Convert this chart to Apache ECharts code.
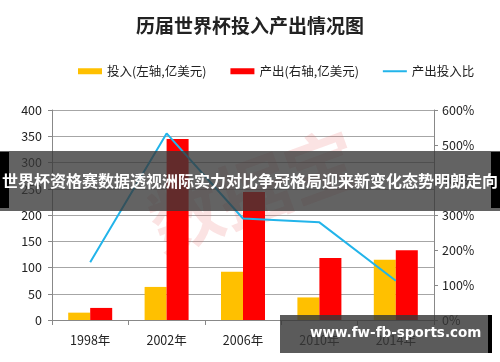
<!DOCTYPE html>
<html><head><meta charset="utf-8">
<script src="https://cdn.jsdelivr.net/npm/echarts@6/dist/echarts.min.js"></script>
<style>html,body{margin:0;padding:0;background:#fff}#c{width:500px;height:362px}</style>
</head><body><div id="c"></div>
<script>
var categories = ['1998年', '2002年', '2006年', '2010年', '2014年'];
var investment = [14, 63, 92, 43, 115];
var output = [23, 345, 244, 118, 133];
var ratio = [165, 533, 290, 279, 112];
var leftTicks = [0, 50, 100, 150, 200, 250, 300, 350, 400];
var rightTicks = [0, 100, 200, 300, 400, 500, 600];
var titleText = '历届世界杯投入产出情况图';
var bannerText = '世界杯资格赛数据透视洲际实力对比争冠格局迎来新变化态势明朗走向';
var siteText = 'www.fw-fb-sports.com';
var stampText = '数据宝';

var chart = echarts.init(document.getElementById('c'), null, {renderer: 'canvas'});
var font = '"Noto Sans CJK SC", "Noto Sans", sans-serif';
chart.setOption({
  animation: false,
  title: {text: titleText, left: 'center', top: 11,
    textStyle: {fontFamily: font, fontSize: 19, fontWeight: 'bold', color: '#222'}},
  legend: {top: 60, left: 73, itemGap: 24, itemWidth: 24, itemHeight: 6,
    textStyle: {fontFamily: font, fontSize: 12.5, color: '#222'},
    data: [{name: '投入(左轴,亿美元)', icon: 'rect'}, {name: '产出(右轴,亿美元)', icon: 'rect'}, {name: '产出投入比', icon: 'path://M0,0 L24,0 L24,2 L0,2 Z'}]},
  grid: {left: 52, right: 66, top: 110, height: 210},
  xAxis: {type: 'category', data: categories,
    axisLine: {lineStyle: {color: '#888'}},
    axisTick: {show: true, length: 5, lineStyle: {color: '#888'}},
    axisLabel: {fontFamily: font, fontSize: 12.5, color: '#222', margin: 14}},
  yAxis: [
    {type: 'value', min: leftTicks[0], max: leftTicks[leftTicks.length - 1], interval: 50,
     axisLine: {show: true, lineStyle: {color: '#888'}},
     axisTick: {show: true, length: 4, lineStyle: {color: '#888'}},
     splitLine: {lineStyle: {color: '#a6a6a6'}},
     axisLabel: {fontFamily: font, fontSize: 12.5, color: '#222', margin: 10}},
    {type: 'value', min: rightTicks[0], max: rightTicks[rightTicks.length - 1], interval: 100,
     axisLine: {show: true, lineStyle: {color: '#888'}},
     axisTick: {show: true, length: 4, lineStyle: {color: '#888'}},
     splitLine: {show: false},
     axisLabel: {fontFamily: font, fontSize: 12.5, color: '#222', margin: 8, formatter: '{value}%'}}
  ],
  series: [
    {name: '投入(左轴,亿美元)', type: 'bar', data: investment, barWidth: 22, barGap: '0%',
     itemStyle: {color: '#FFC000'}},
    {name: '产出(右轴,亿美元)', type: 'bar', data: output, barWidth: 22, barGap: '0%',
     itemStyle: {color: '#FF0000'}},
    {name: '产出投入比', type: 'line', yAxisIndex: 1, data: ratio, symbol: 'none',
     lineStyle: {color: '#22B4EA', width: 2}, itemStyle: {color: '#22B4EA'}, z: 5}
  ],
  graphic: [
    {type: 'text', left: 140, top: 120, rotation: 0.35, z: 1, silent: true,
     style: {text: stampText, fontSize: 72, fontWeight: 'bold', fontFamily: font, fill: 'rgba(235,100,100,0.18)'}},
    {type: 'rect', left: 0, top: 151, z: 100, shape: {width: 500, height: 60}, style: {fill: 'rgba(55,55,55,0.78)'}},
    {type: 'rect', left: 0, top: 152, z: 101, shape: {width: 9, height: 56}, style: {fill: '#000'}},
    {type: 'rect', left: 491, top: 152, z: 101, shape: {width: 9, height: 56}, style: {fill: '#000'}},
    {type: 'text', left: 'center', top: 173, z: 102,
     style: {text: bannerText, fontSize: 16, fontWeight: 'bold', fontFamily: font, fill: '#fff'}},
    {type: 'rect', left: 280, top: 315, z: 100, shape: {width: 208, height: 38}, style: {fill: 'rgba(55,55,55,0.82)'}},
    {type: 'rect', left: 488, top: 315, z: 101, shape: {width: 4, height: 38}, style: {fill: '#000'}},
    {type: 'text', left: 310, top: 326, z: 102,
     style: {text: siteText, fontSize: 13.5, fontWeight: 'bold', fontFamily: '"DejaVu Sans", sans-serif', fill: '#fff'}}
  ]
});
</script></body></html>
